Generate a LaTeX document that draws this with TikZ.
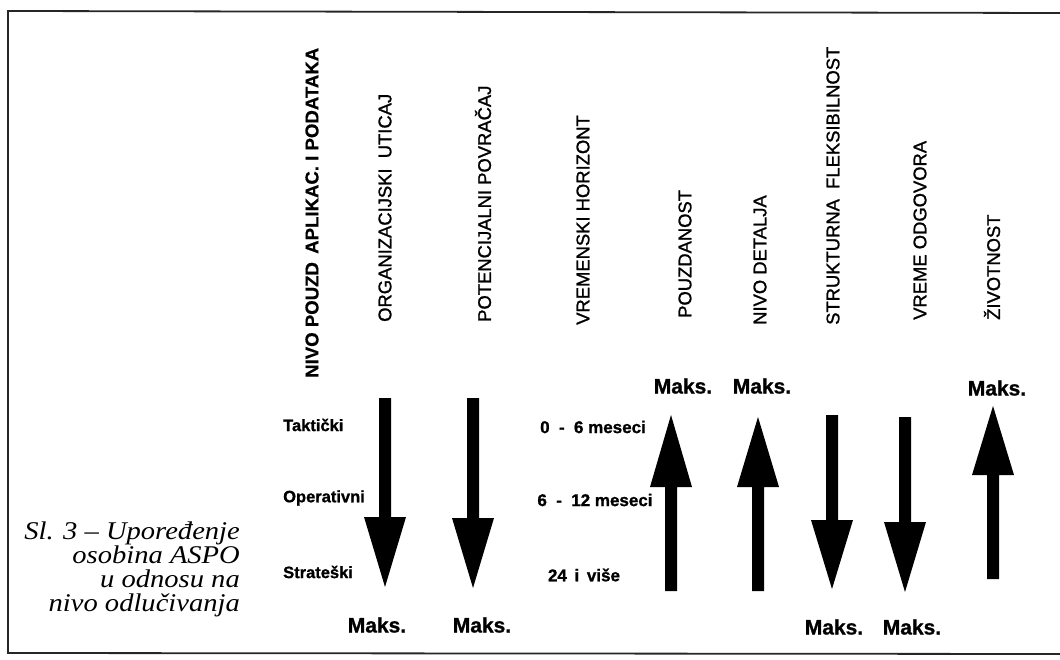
\documentclass[tikz,border=0pt]{standalone}
\usepackage{fontspec}
\setmainfont{Liberation Serif}
\newfontfamily\capfont[FakeStretch=1.12,Ligatures=TeX]{Liberation Serif Italic}
\newfontfamily\hvfont[FakeBold=1.2]{Liberation Sans}
\newfontfamily\hvbold[FakeBold=0.6]{Liberation Sans Bold}
\newfontfamily\hvheavy[FakeBold=1]{Liberation Sans Bold}
\newcommand\myfs[1]{\fontsize{#1}{#1}\selectfont}
\begin{document}
\begin{tikzpicture}[x=1pt,y=-1pt,
  header/.style={rotate=90,anchor=west,inner sep=0pt,font=\hvfont\myfs{18.4}},
  bheader/.style={header,font=\hvbold\myfs{18.6}},
  rowlbl/.style={anchor=west,inner sep=0pt,font=\hvheavy\myfs{16.5}},
  timelbl/.style={anchor=center,inner sep=0pt,font=\hvheavy\myfs{17}},
  maks/.style={anchor=center,inner sep=0pt,font=\hvheavy\myfs{21}},
  caption/.style={anchor=east,inner sep=0pt,text height=11pt,text depth=3pt,font=\capfont\myfs{25.5}},
  frameline/.style={line width=1.8pt,draw=black!85},
  blockarrow/.style={fill=black}]
\useasboundingbox (0,0) rectangle (1060,660);
\fill[white] (0,0) rectangle (1060,660);
% frame (open on the right)
\draw[frameline] (1060,13) -- (8,11) -- (8,653) -- (1060,654);
% headers
\node[bheader] (h1) at (312,378) {NIVO POUZD\, APLIKAC. I PODATAKA};
\node[header] (h2) at (385,322) {ORGANIZACIJSKI\ \ UTICAJ};
\node[header] (h3) at (483,322) {POTENCIJALNI POVRAČAJ};
\node[header] (h4) at (583,325) {VREMENSKI HORIZONT};
\node[header] (h5) at (685,318) {POUZDANOST};
\node[header] (h6) at (760,325) {NIVO DETALJA};
\node[header] (h7) at (833,325) {STRUKTURNA\ \ FLEKSIBILNOST};
\node[header] (h8) at (920,320) {VREME ODGOVORA};
\node[header] (h9) at (992,320) {ŽIVOTNOST};
% row labels
\node[rowlbl] (rt) at (283,425) {Taktički};
\node[rowlbl] (ro) at (283,498) {Operativni};
\node[rowlbl] (rs) at (283,572) {Strateški};
% time labels
\node[timelbl] (t1) at (593,427) {0\hspace{0.55em}-\hspace{0.55em}6 meseci};
\node[timelbl] (t2) at (595,500) {6\hspace{0.55em}-\hspace{0.55em}12 meseci};
\node[timelbl] (t3) at (584,575) {24\hspace{0.45em}i\hspace{0.45em}više};
% Maks labels
\node[maks] (m1) at (683,386) {Maks.};
\node[maks] (m2) at (762,386) {Maks.};
\node[maks] (m3) at (997,388) {Maks.};
\node[maks] (m4) at (377,625) {Maks.};
\node[maks] (m5) at (482,625) {Maks.};
\node[maks] (m6) at (834,627) {Maks.};
\node[maks] (m7) at (912,627) {Maks.};
% down arrows: x, shaft top, head base, tip
\foreach \x/\ya/\yb/\yc in {385/398/517/587, 473/398/518/588, 832/415/520/589, 905/417/522/592}{
  \fill[blockarrow] (\x-6,\ya) -- (\x+6,\ya) -- (\x+6,\yb) -- (\x+21,\yb) -- (\x,\yc) -- (\x-21,\yb) -- (\x-6,\yb) -- cycle;
}
% up arrows: x, shaft bottom, head base, tip
\foreach \x/\ya/\yb/\yc in {671/591/487/415, 758/591/487/417, 993/579/475/406}{
  \fill[blockarrow] (\x-6,\ya) -- (\x+6,\ya) -- (\x+6,\yb) -- (\x+21,\yb) -- (\x,\yc) -- (\x-21,\yb) -- (\x-6,\yb) -- cycle;
}
% caption
\node[caption] (c1) at (240,535) {Sl. 3 – Upoređenje};
\node[caption] (c2) at (240,559) {osobina ASPO};
\node[caption] (c3) at (240,583) {u odnosu na};
\node[caption] (c4) at (240,607) {nivo odlučivanja};
\end{tikzpicture}
\end{document}
